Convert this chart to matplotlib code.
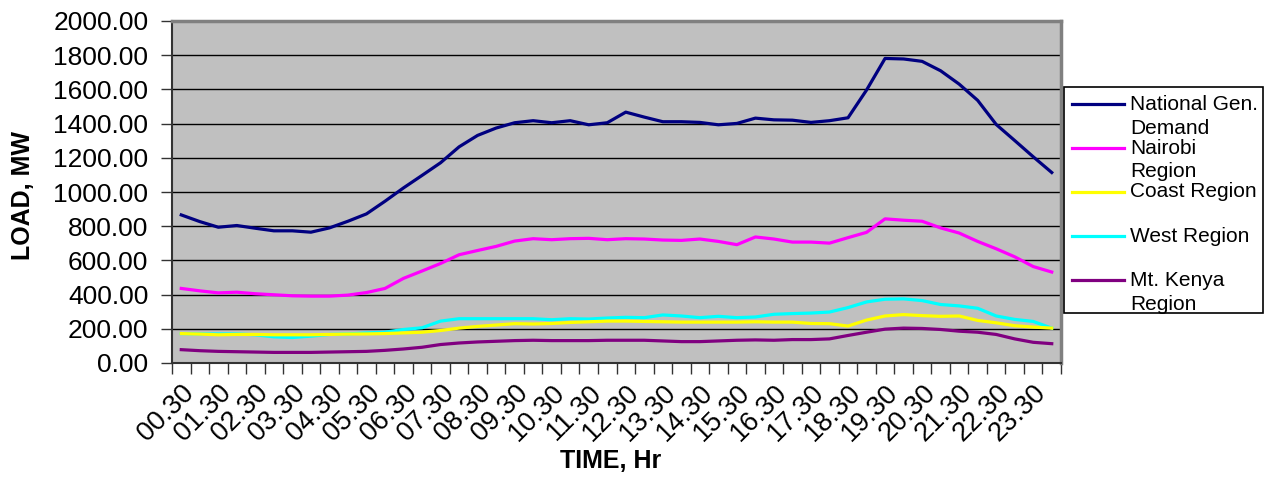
import matplotlib
matplotlib.use("Agg")
import matplotlib.pyplot as plt
from matplotlib.lines import Line2D
from matplotlib.patches import Rectangle
from matplotlib.ticker import FixedLocator, FuncFormatter

plt.rcParams['font.family'] = ['Liberation Sans', 'DejaVu Sans']

# Half-hourly time slots 00.30 ... 24.00
times = ["%02d.%s" % ((k + 1) // 2, "30" if k % 2 == 0 else "00") for k in range(48)]

national = [866, 827, 794, 804, 788, 773, 773, 765, 790, 829, 872, 946,
            1024, 1097, 1171, 1264, 1331, 1374, 1405, 1417, 1405, 1417, 1393, 1405,
            1467, 1438, 1411, 1411, 1407, 1393, 1401, 1432, 1422, 1420, 1407, 1417,
            1434, 1596, 1781, 1778, 1764, 1709, 1631, 1536, 1395, 1301, 1206, 1114]

nairobi = [436, 422, 410, 414, 405, 399, 393, 391, 391, 397, 412, 436,
           495, 538, 582, 633, 658, 682, 713, 727, 721, 727, 729, 721,
           727, 725, 719, 717, 725, 711, 692, 737, 725, 707, 707, 701,
           733, 764, 843, 835, 829, 790, 760, 711, 668, 621, 564, 532]

coast = [172, 169, 165, 167, 167, 165, 165, 165, 167, 169, 170, 172,
         176, 180, 190, 204, 214, 222, 230, 228, 231, 237, 241, 245,
         245, 243, 241, 239, 239, 239, 239, 241, 239, 239, 231, 230,
         216, 251, 275, 283, 277, 273, 275, 249, 235, 218, 210, 204]

west = [172, 170, 170, 170, 165, 153, 149, 157, 167, 170, 176, 180,
        196, 206, 245, 259, 259, 259, 259, 259, 253, 259, 257, 263,
        267, 265, 281, 275, 265, 273, 265, 269, 285, 289, 292, 298,
        324, 357, 373, 375, 365, 342, 334, 320, 275, 255, 243, 204]

mt_kenya = [78, 72, 68, 66, 64, 62, 62, 62, 64, 66, 68, 74,
            82, 92, 108, 117, 123, 127, 131, 133, 131, 131, 131, 133,
            133, 133, 129, 125, 125, 129, 133, 135, 133, 137, 137, 141,
            161, 180, 198, 204, 202, 196, 186, 180, 167, 141, 121, 113]

series_names = ["National Gen.\nDemand", "Nairobi\nRegion", "Coast Region",
                "West Region", "Mt. Kenya\nRegion"]
series_values = [national, nairobi, coast, west, mt_kenya]
series_colors = ["#000080", "#FF00FF", "#FFFF00", "#00FFFF", "#800080"]

y_ticks = [0, 200, 400, 600, 800, 1000, 1200, 1400, 1600, 1800, 2000]

W, H = 1270, 478
fig = plt.figure(figsize=(W / 100, H / 100), dpi=100)
ax = fig.add_axes([172 / W, 1 - 363 / H, (1061 - 172) / W, (363 - 21) / H])
ax.set_facecolor("#C0C0C0")

x = list(range(len(times)))
# draw in reverse so the national line sits on top as in a spreadsheet chart
for vals, col in reversed(list(zip(series_values, series_colors))):
    ax.plot(x, vals, color=col, lw=2.3, solid_joinstyle='round', zorder=3)

ax.set_xlim(-0.5, len(times) - 0.5)
ax.set_ylim(0, 2000)

ax.yaxis.set_major_locator(FixedLocator(y_ticks))
ax.yaxis.set_major_formatter(FuncFormatter(lambda v, p: "%.2f" % v))
ax.grid(axis='y', color='black', lw=1.0, zorder=1)
ax.set_axisbelow(True)

label_pos = x[::2]
ax.set_xticks(label_pos)
ax.set_xticklabels([times[i] for i in label_pos], rotation=45, ha='right',
                   rotation_mode='anchor', fontsize=19.5)
ax.set_xticks([i - 0.5 for i in range(len(times) + 1)], minor=True)
ax.tick_params(axis='x', which='major', length=0, pad=12)
ax.tick_params(axis='x', which='minor', length=8, width=1, color='#333333')
ax.tick_params(axis='y', length=8, width=1, color='#333333', labelsize=19, pad=9)

for side in ['top', 'right']:
    ax.spines[side].set_color('#808080')
    ax.spines[side].set_linewidth(2.5)
ax.spines['left'].set_color('#333333')
ax.spines['bottom'].set_color('#333333')
ax.spines['left'].set_linewidth(1.5)
ax.spines['bottom'].set_linewidth(1.5)

fig.text(23 / W, 1 - 195 / H, "LOAD, MW", rotation=90, ha='center', va='center',
         fontsize=18, fontweight='bold')
fig.text(611 / W, 1 - 461 / H, "TIME, Hr", ha='center', va='center',
         fontsize=18, fontweight='bold')

# legend box drawn in figure pixels
fig.patches.append(Rectangle((1064 / W, 1 - 313 / H), 199 / W, 226 / H,
                             transform=fig.transFigure, facecolor='white',
                             edgecolor='black', lw=1.2, zorder=5))
for k, (name, col) in enumerate(zip(series_names, series_colors)):
    yc = 104 + 44 * k
    fig.lines.append(Line2D([1072 / W, 1124 / W], [1 - yc / H, 1 - yc / H],
                            transform=fig.transFigure, color=col, lw=2.3, zorder=6))
    for j, line in enumerate(name.split("\n")):
        fig.text(1130 / W, 1 - (yc + 24 * j) / H, line, ha='left', va='center',
                 fontsize=15, zorder=7)

fig.savefig("out.png", dpi=100, facecolor='white')
